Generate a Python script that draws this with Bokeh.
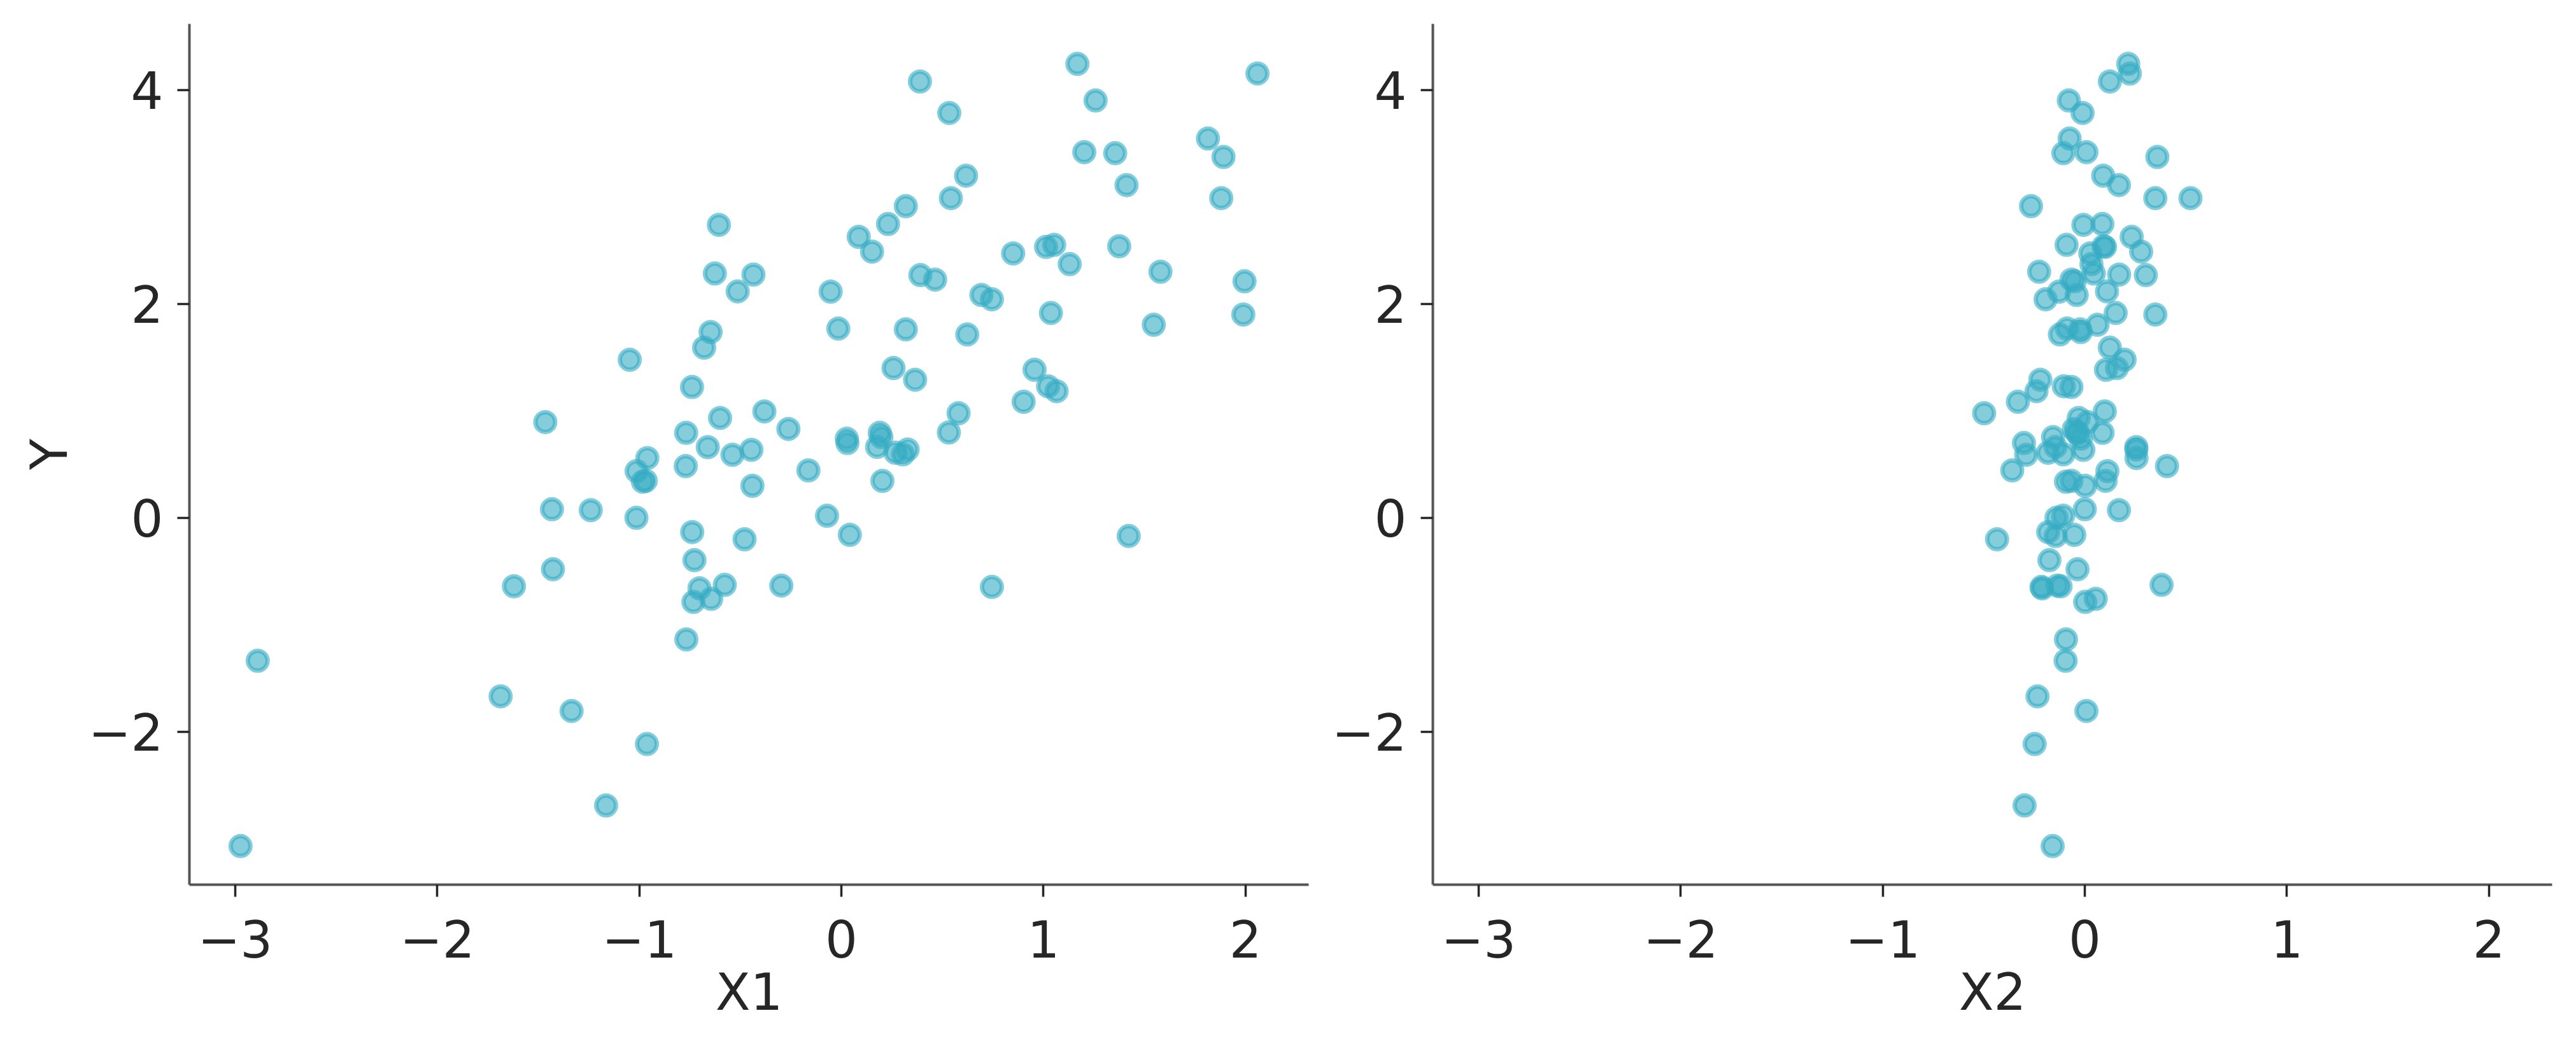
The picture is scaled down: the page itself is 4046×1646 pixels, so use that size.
from bokeh.plotting import figure
from bokeh.layouts import row
from bokeh.models import Range1d, FixedTicker, CustomJSTickFormatter
from bokeh.embed import file_html
from bokeh.resources import INLINE

# Shared response values (Y), paired with X1 and X2
y = [4.245, 4.155, 4.08, 3.903, 3.786, 3.547, 3.42, 3.41, 3.375, 3.2, 3.112,
     2.99, 2.99, 2.915, 2.748, 2.74, 2.628, 2.553, 2.54, 2.534, 2.49, 2.473,
     2.373, 2.302, 2.285, 2.275, 2.27, 2.228, 2.212, 2.118, 2.116, 2.085, 2.044,
     1.916, 1.902, 1.806, 1.77, 1.763, 1.738, 1.715, 1.592, 1.479, 1.401, 1.385,
     1.292, 1.231, 1.224, 1.185, 1.086, 0.996, 0.979, 0.935, 0.896, 0.832,
     0.799, 0.796, 0.796, 0.755, 0.741, 0.70, 0.664, 0.662, 0.64, 0.637, 0.61,
     0.595, 0.59, 0.56, 0.485, 0.445, 0.437, 0.347, 0.346, 0.339, 0.30,
     0.081, 0.073, 0.02, 0.001, -0.132, -0.158, -0.169, -0.2, -0.395, -0.48,
     -0.626, -0.632, -0.639, -0.645, -0.658, -0.756, -0.785, -1.136, -1.335,
     -1.668, -1.805, -2.114, -2.688, -3.068]

x1 = [1.168, 2.059, 0.389, 1.258, 0.534, 1.814, 1.202, 1.355, 1.891, 0.617, 1.411,
      0.542, 1.88, 0.319, 0.231, -0.606, 0.086, 1.053, 1.375, 1.013, 0.152, 0.85,
      1.13, 1.579, -0.626, -0.435, 0.391, 0.464, 1.995, -0.513, -0.053, 0.693, 0.745,
      1.037, 1.989, 1.546, -0.015, 0.319, -0.647, 0.623, -0.679, -1.047, 0.258, 0.956,
      0.365, 1.023, -0.739, 1.065, 0.902, -0.381, 0.58, -0.6, -1.465, -0.262,
      0.532, -0.768, 0.19, 0.198, 0.027, 0.03, 0.177, -0.661, 0.328, -0.445, 0.268,
      0.305, -0.539, -0.96, -0.77, -0.163, -1.013, -0.968, 0.203, -0.982, -0.44,
      -1.432, -1.24, -0.071, -1.014, -0.738, 0.042, 1.422, -0.479, -0.727, -1.427,
      -0.577, -0.297, -1.62, 0.745, -0.702, -0.644, -0.732, -0.767, -2.888,
      -1.686, -1.335, -0.962, -1.164, -2.973]

x2 = [0.215, 0.223, 0.124, -0.079, -0.011, -0.075, 0.008, -0.106, 0.359, 0.091, 0.169,
      0.349, 0.523, -0.266, 0.087, -0.007, 0.232, -0.09, 0.093, 0.10, 0.279, 0.027,
      0.033, -0.226, 0.045, 0.17, 0.302, -0.066, -0.05, 0.11, -0.127, -0.04, -0.194,
      0.153, 0.349, 0.063, -0.088, -0.023, -0.02, -0.123, 0.124, 0.197, 0.159, 0.105,
      -0.22, -0.104, -0.066, -0.239, -0.331, 0.099, -0.498, -0.03, 0.014, -0.054,
      -0.035, -0.04, 0.088, -0.157, -0.02, -0.301, -0.145, 0.255, 0.255, -0.007, -0.182,
      -0.106, -0.29, 0.256, 0.407, -0.359, 0.112, 0.103, -0.066, -0.093, 0.002,
      0.0, 0.169, -0.107, -0.14, -0.181, -0.052, -0.144, -0.434, -0.175, -0.036,
      0.38, -0.136, -0.12, -0.214, -0.211, 0.054, 0.002, -0.093, -0.095,
      -0.234, 0.008, -0.248, -0.298, -0.159]

x_ticks = [-3, -2, -1, 0, 1, 2]
y_ticks = [-2, 0, 2, 4]
x_names = ["X1", "X2"]
y_name = "Y"

FONT = "DejaVu Sans"
TEXT = "#262626"
POINT = "#35ACC3"

xr = Range1d(-3.226, 2.3125)
yr = Range1d(-3.429, 4.619)

fmt = CustomJSTickFormatter(code="return tick < 0 ? '\u2212' + Math.abs(tick) : String(tick);")


def make_fig(xs, xlabel, ylabel, border_left, border_right):
    p = figure(x_range=xr, y_range=yr, frame_width=1758, frame_height=1352,
               min_border_left=border_left, min_border_right=border_right,
               min_border_top=37, min_border_bottom=200,
               output_backend="svg", toolbar_location=None)
    p.scatter(xs, y, size=31, marker="circle",
              fill_color=POINT, fill_alpha=0.6,
              line_color=POINT, line_alpha=0.6, line_width=7)
    p.grid.visible = False
    p.outline_line_color = None
    p.background_fill_color = "white"
    p.border_fill_color = "white"
    p.xaxis.ticker = FixedTicker(ticks=x_ticks)
    p.yaxis.ticker = FixedTicker(ticks=y_ticks)
    for ax in (p.xaxis, p.yaxis):
        ax.formatter = fmt
        ax.axis_line_color = "#555555"
        ax.axis_line_width = 4
        ax.major_tick_line_color = TEXT
        ax.major_tick_line_width = 3.5
        ax.major_tick_out = 19
        ax.major_tick_in = 0
        ax.minor_tick_line_color = None
        ax.major_label_text_font = FONT
        ax.major_label_text_font_size = "80px"
        ax.major_label_text_color = TEXT
        ax.axis_label_text_font = FONT
        ax.axis_label_text_font_size = "80px"
        ax.axis_label_text_font_style = "normal"
        ax.axis_label_text_color = TEXT
    p.xaxis.major_label_standoff = 36
    p.yaxis.major_label_standoff = 22
    p.xaxis.axis_label = xlabel
    p.xaxis.axis_label_standoff = 5
    if ylabel:
        p.yaxis.axis_label = ylabel
        p.yaxis.axis_label_standoff = 12
    return p


p1 = make_fig(x1, x_names[0], y_name, 297, 10)
p2 = make_fig(x2, x_names[1], None, 185, 20)

layout = row(p1, p2)
open("out.html", "w").write(file_html(layout, INLINE))
